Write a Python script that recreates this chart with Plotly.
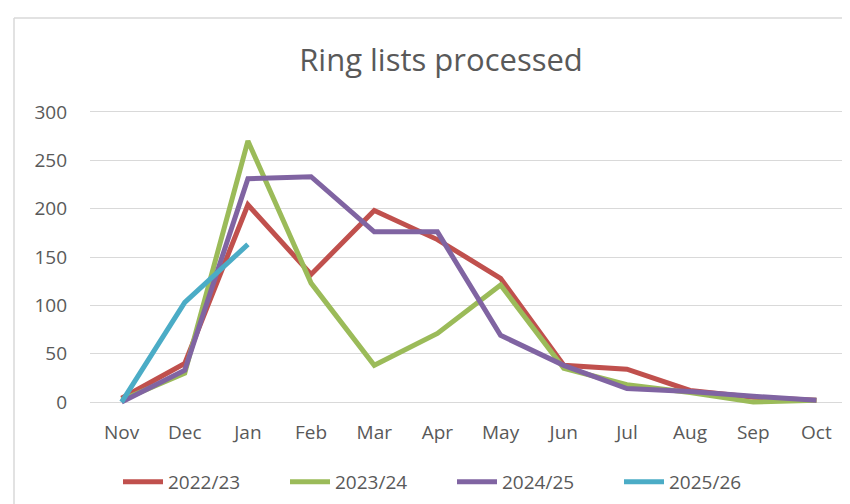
import plotly.graph_objects as go

months = ["Nov", "Dec", "Jan", "Feb", "Mar", "Apr", "May", "Jun", "Jul", "Aug", "Sep", "Oct"]
s2022 = [4, 40, 204, 132, 198, 168, 128, 38, 34, 12, 5, 2]
s2023 = [2, 30, 270, 123, 38, 71, 121, 35, 18, 10, 0, 2]
s2024 = [0, 33, 231, 233, 176, 176, 69, 38, 14, 11, 6, 2]
s2025 = [0, 103, 163]
y_ticks = [0, 50, 100, 150, 200, 250, 300]

series = [
    ("2022/23", s2022, "#C0504D"),
    ("2023/24", s2023, "#9BBB59"),
    ("2024/25", s2024, "#8064A2"),
    ("2025/26", s2025, "#4BACC6"),
]

FONT = "Open Sans"
TXT = "#595959"

fig = go.Figure()
for name, vals, col in series:
    fig.add_trace(go.Scatter(
        x=months[:len(vals)], y=vals, name=name, mode="lines",
        line=dict(color=col, width=5), cliponaxis=False,
    ))

W, H = 850, 504
L, R, T, B = 82, 10, 101, 107
pw, ph = W - L - R, H - T - B

fig.update_layout(
    width=W, height=H,
    margin=dict(l=L, r=R, t=T, b=B, autoexpand=False),
    paper_bgcolor="white", plot_bgcolor="white",
    font=dict(family=FONT, color=TXT, size=19),
    title=dict(text="Ring lists processed", x=433 / W, xref="container",
               xanchor="center", y=1 - 52 / H, yanchor="middle",
               font=dict(size=31, color=TXT, family=FONT)),
    showlegend=True,
    legend=dict(orientation="h", x=(444 - L) / pw, xref="paper", xanchor="center",
                y=-(474 - (T + ph)) / ph, yanchor="middle",
                font=dict(size=19, color=TXT, family=FONT),
                entrywidth=112, entrywidthmode="pixels", itemwidth=40),
    xaxis=dict(type="category", categoryorder="array", categoryarray=months,
               range=[-0.5, 11.5], showgrid=False, showline=False, zeroline=False,
               ticks="outside", ticklen=10, tickcolor="rgba(0,0,0,0)",
               tickfont=dict(size=19, color=TXT)),
    yaxis=dict(range=[-3, 303], tickvals=y_ticks, showgrid=True, gridcolor="#D9D9D9",
               gridwidth=1.3, zeroline=False, showline=False,
               ticklabelstandoff=22, tickfont=dict(size=19, color=TXT)),
)

# chart border (top and left edges visible)
def px_x(p):
    return (p - L) / pw

def px_y(p):
    return 1 - (p - T) / ph

fig.add_shape(type="line", xref="paper", yref="paper",
              x0=px_x(6), x1=px_x(852), y0=px_y(10), y1=px_y(10),
              line=dict(color="#D9D9D9", width=1.5))
fig.add_shape(type="line", xref="paper", yref="paper",
              x0=px_x(6), x1=px_x(6), y0=px_y(10), y1=px_y(506),
              line=dict(color="#D9D9D9", width=1.5))

fig.write_html("out.html")
